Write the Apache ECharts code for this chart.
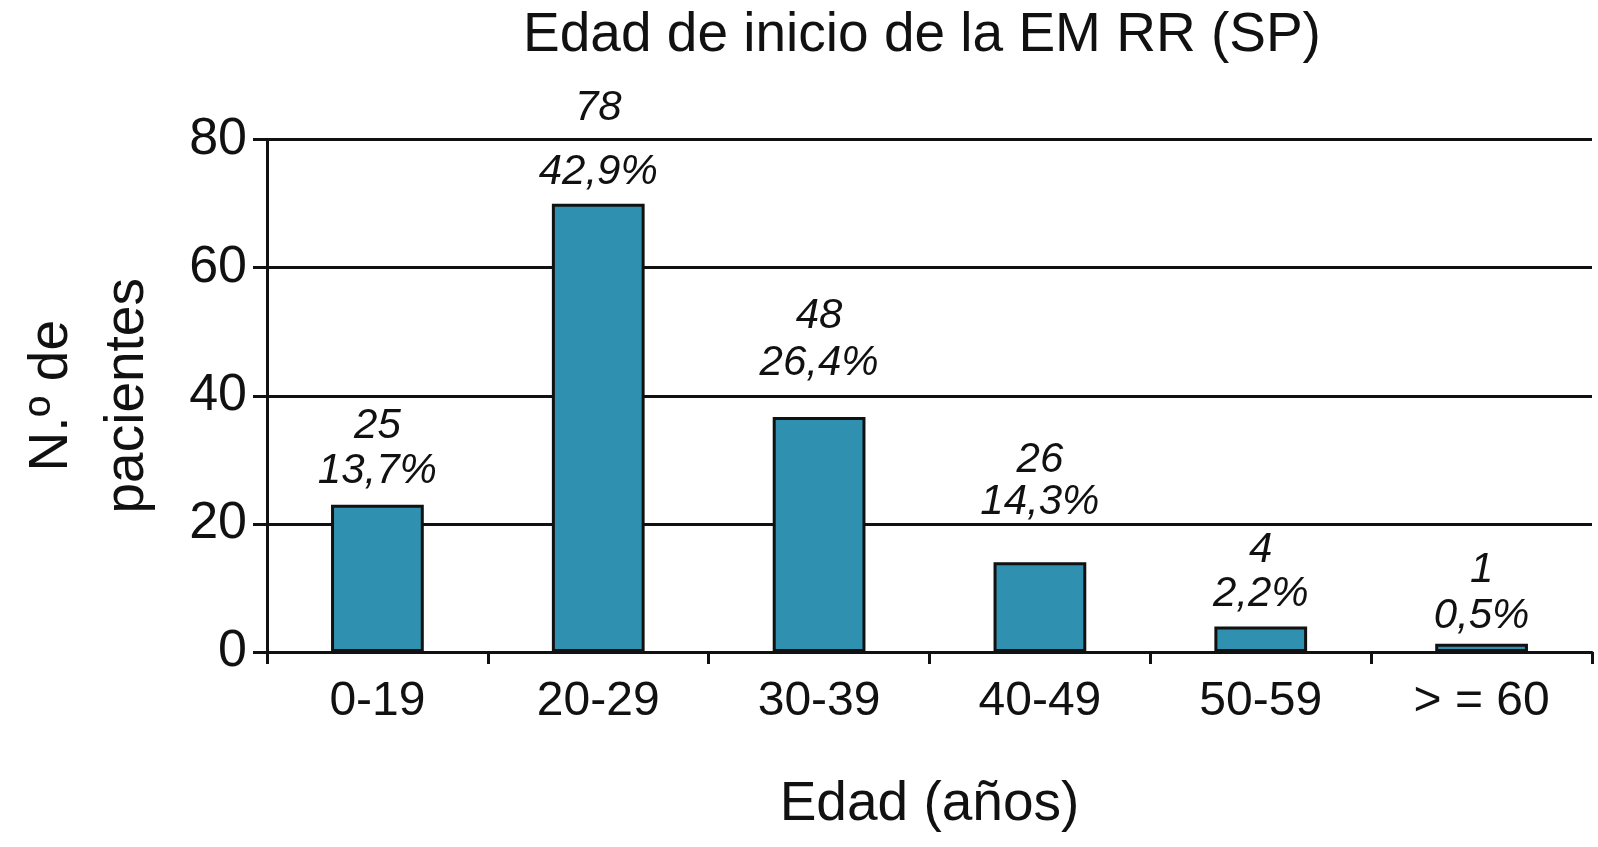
<!DOCTYPE html>
<html>
<head>
<meta charset="utf-8">
<script src="https://cdn.jsdelivr.net/npm/echarts@6/dist/echarts.min.js"></script>
<style>html,body{margin:0;padding:0;background:#fff}#c{width:1598px;height:847px}</style>
</head>
<body>
<div id="c"></div>
<script>
// Data
const categories = ['0-19', '20-29', '30-39', '40-49', '50-59', '> = 60'];
const barHeights = [23, 70, 36.7, 14, 4, 1.3];          // bar heights as drawn
const countLabels = ['25', '78', '48', '26', '4', '1'];  // printed counts
const pctLabels = ['13,7%', '42,9%', '26,4%', '14,3%', '2,2%', '0,5%'];
const yTicks = [0, 20, 40, 60, 80];

// Label layout (style only)
const labelDist = [11, 9, 32, 38, 10, 5];
const firstLineH = [46, 84, 50, 40, 44, 48];

const FONT = 'Liberation Sans, Arial, Helvetica, sans-serif';
const chart = echarts.init(document.getElementById('c'), null, {renderer: 'canvas'});

const seriesData = barHeights.map((v, i) => ({
  value: v,
  label: {
    distance: labelDist[i],
    formatter: '{n|' + countLabels[i] + '}\n{p|' + pctLabels[i] + '}',
    rich: {
      n: {fontSize: 42, fontStyle: 'italic', fontFamily: FONT, color: '#111', lineHeight: firstLineH[i], align: 'center'},
      p: {fontSize: 42, fontStyle: 'italic', fontFamily: FONT, color: '#111', lineHeight: 44, align: 'center'}
    }
  }
}));

chart.setOption({
  animation: false,
  backgroundColor: '#fff',
  title: {
    text: 'Edad de inicio de la EM RR (SP)',
    left: 917, top: 3, textAlign: 'center',
    textStyle: {fontSize: 55, fontWeight: 'normal', fontFamily: FONT, color: '#111'}
  },
  grid: {left: 267, right: 6, top: 139.6, bottom: 195, containLabel: false, outerBoundsMode: 'none'},
  xAxis: {
    type: 'category',
    data: categories,
    boundaryGap: true,
    name: 'Edad (años)',
    nameLocation: 'middle',
    nameGap: 125,
    nameTextStyle: {fontSize: 55, fontFamily: FONT, color: '#111'},
    axisLine: {lineStyle: {color: '#111', width: 3}},
    axisTick: {show: true, length: 12, lineStyle: {color: '#111', width: 3}, alignWithLabel: false},
    axisLabel: {fontSize: 48, fontFamily: FONT, color: '#111', margin: 26, interval: 0}
  },
  yAxis: {
    type: 'value',
    min: yTicks[0], max: yTicks[yTicks.length - 1], interval: 20,
    name: 'N.º de\npacientes',
    nameLocation: 'middle',
    nameRotate: 90,
    nameGap: 101,
    nameTextStyle: {fontSize: 55, fontFamily: FONT, color: '#111', lineHeight: 76},
    axisLine: {show: true, lineStyle: {color: '#111', width: 3}},
    axisTick: {show: true, length: 14, lineStyle: {color: '#111', width: 3}},
    axisLabel: {fontSize: 52, fontFamily: FONT, color: '#111', margin: 20},
    splitLine: {show: true, lineStyle: {color: '#111', width: 3}}
  },
  series: [{
    type: 'bar',
    data: seriesData,
    barWidth: '42%',
    itemStyle: {color: '#3090B0', borderColor: '#111', borderWidth: 3},
    label: {show: true, position: 'top'}
  }]
});
</script>
</body>
</html>
